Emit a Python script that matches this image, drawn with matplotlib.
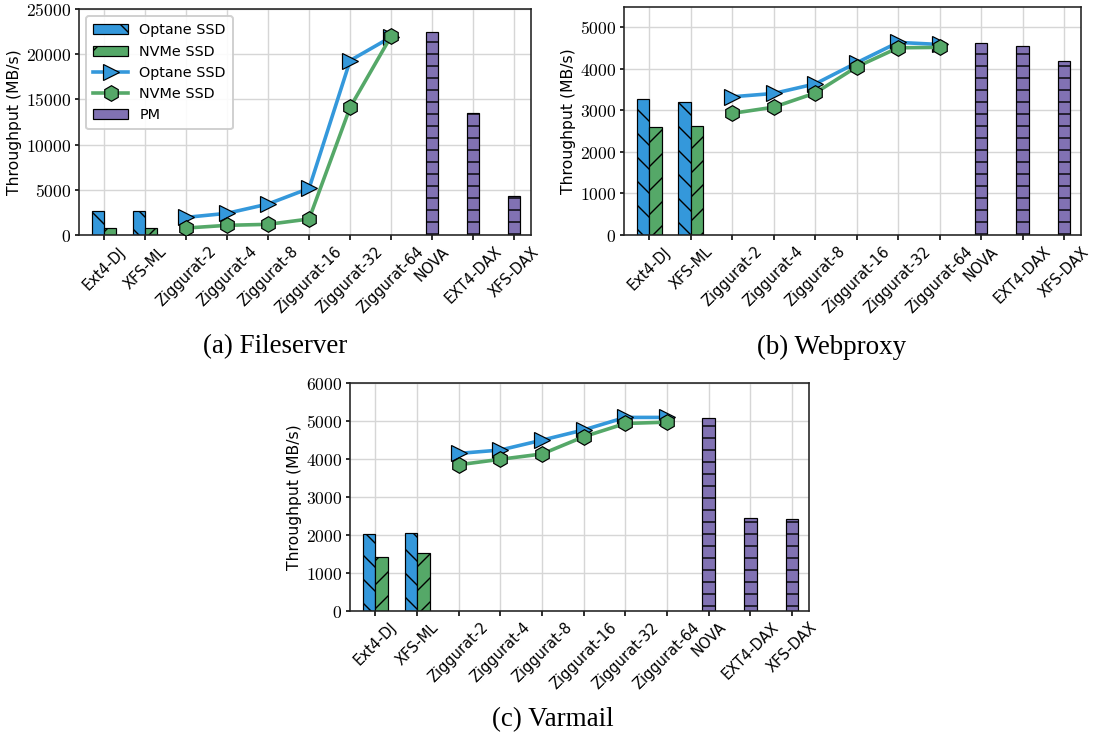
import matplotlib
matplotlib.use("Agg")
import matplotlib.pyplot as plt
from matplotlib.patches import Patch
from matplotlib.lines import Line2D
from matplotlib.ticker import FuncFormatter, MultipleLocator

plt.rcParams['mathtext.fontset'] = 'cm'
plt.rcParams['font.family'] = ['DejaVu Sans']
plt.rcParams['hatch.linewidth'] = 0.7

categories = ['Ext4-DJ', 'XFS-ML', 'Ziggurat-2', 'Ziggurat-4', 'Ziggurat-8',
              'Ziggurat-16', 'Ziggurat-32', 'Ziggurat-64', 'NOVA', 'EXT4-DAX', 'XFS-DAX']

# (a) Fileserver
fs_optane_bar = [2650, 2650]
fs_nvme_bar = [800, 800]
fs_optane_line = [1950, 2400, 3430, 5160, 19300, 21900]
fs_nvme_line = [770, 1070, 1180, 1770, 14120, 22000]
fs_pm = [22450, 13450, 4300]

# (b) Webproxy
wp_optane_bar = [3270, 3200]
wp_nvme_bar = [2595, 2620]
wp_optane_line = [3330, 3410, 3640, 4150, 4640, 4590]
wp_nvme_line = [2930, 3080, 3420, 4050, 4510, 4520]
wp_pm = [4620, 4550, 4195]

# (c) Varmail
vm_optane_bar = [2016, 2042]
vm_nvme_bar = [1425, 1522]
vm_optane_line = [4150, 4240, 4500, 4770, 5100, 5100]
vm_nvme_line = [3850, 3995, 4135, 4590, 4940, 4975]
vm_pm = [5075, 2455, 2410]

BLUE = '#3498db'
GREEN = '#55a868'
PURPLE = '#8172b3'

W, H = 1094, 740
DPI = 144
fig = plt.figure(figsize=(W / DPI, H / DPI), dpi=DPI)


def px_axes(left, right, top, bottom):
    return fig.add_axes([left / W, 1 - bottom / H, (right - left) / W, (bottom - top) / H])


def panel(ax, ob, nb, ol, nl, pm, ymax, ystep, legend=False):
    x = list(range(len(categories)))
    w = 0.3
    ax.bar([x[0] - w / 2, x[1] - w / 2], ob, width=w, color=BLUE, edgecolor='black',
           linewidth=0.6, hatch='\\\\', label='Optane SSD', zorder=2)
    ax.bar([x[0] + w / 2, x[1] + w / 2], nb, width=w, color=GREEN, edgecolor='black',
           linewidth=0.6, hatch='//', label='NVMe SSD', zorder=2)
    ax.plot(x[2:8], ol, color=BLUE, lw=1.8, marker='>', ms=7.8, mec='black', mew=0.6,
            label='Optane SSD', zorder=3)
    ax.plot(x[2:8], nl, color=GREEN, lw=1.8, marker='h', ms=7.8, mec='black', mew=0.6,
            label='NVMe SSD', zorder=3)
    ax.bar(x[8:], pm, width=w, color=PURPLE, edgecolor='black', linewidth=0.6,
           hatch='--', label='PM', zorder=2)
    ax.set_xlim(-0.61, 10.41)
    ax.set_ylim(0, ymax)
    ax.yaxis.set_major_locator(MultipleLocator(ystep))
    ax.yaxis.set_major_formatter(FuncFormatter(lambda v, p: f'${int(v)}$'))
    ax.set_xticks(x)
    ax.set_xticklabels(categories, rotation=45, fontsize=7.3)
    ax.tick_params(axis='y', labelsize=8.8, length=2, pad=2)
    ax.tick_params(axis='x', length=2.5, pad=2)
    ax.set_ylabel('Throughput (MB/s)', fontsize=7.8, labelpad=2)
    ax.grid(True, color='#d6d6d6', lw=0.7)
    ax.set_axisbelow(True)
    for s in ax.spines.values():
        s.set_color('#222222')
        s.set_linewidth(0.8)
    if legend:
        handles = [
            Patch(facecolor=BLUE, edgecolor='black', hatch='\\', lw=0.6),
            Patch(facecolor=GREEN, edgecolor='black', hatch='/', lw=0.6),
            Line2D([], [], color=BLUE, lw=1.8, marker='>', ms=7.8, mec='black', mew=0.6),
            Line2D([], [], color=GREEN, lw=1.8, marker='h', ms=7.8, mec='black', mew=0.6),
            Patch(facecolor=PURPLE, edgecolor='black', hatch='-', lw=0.6),
        ]
        labels = ['Optane SSD', 'NVMe SSD', 'Optane SSD', 'NVMe SSD', 'PM']
        ax.legend(handles, labels, loc='upper left', fontsize=7.2, handlelength=2.4,
                  labelspacing=0.5, borderpad=0.5, framealpha=0.9)


ax_a = px_axes(79, 531, 9, 235)
panel(ax_a, fs_optane_bar, fs_nvme_bar, fs_optane_line, fs_nvme_line, fs_pm, 25000, 5000, legend=True)

ax_b = px_axes(624, 1081, 6.7, 235)
panel(ax_b, wp_optane_bar, wp_nvme_bar, wp_optane_line, wp_nvme_line, wp_pm, 5500, 1000)

ax_c = px_axes(350, 809, 383.3, 610.7)
panel(ax_c, vm_optane_bar, vm_nvme_bar, vm_optane_line, vm_nvme_line, vm_pm, 6000, 1000)

cap = dict(fontsize=13.5, family='Liberation Serif', ha='center', va='center')
fig.text(275.5 / W, 1 - 347 / H, '(a) Fileserver', **cap)
fig.text(832 / W, 1 - 347 / H, '(b) Webproxy', **cap)
fig.text(553 / W, 1 - 720 / H, '(c) Varmail', **cap)

fig.savefig('out.png', dpi=DPI)
